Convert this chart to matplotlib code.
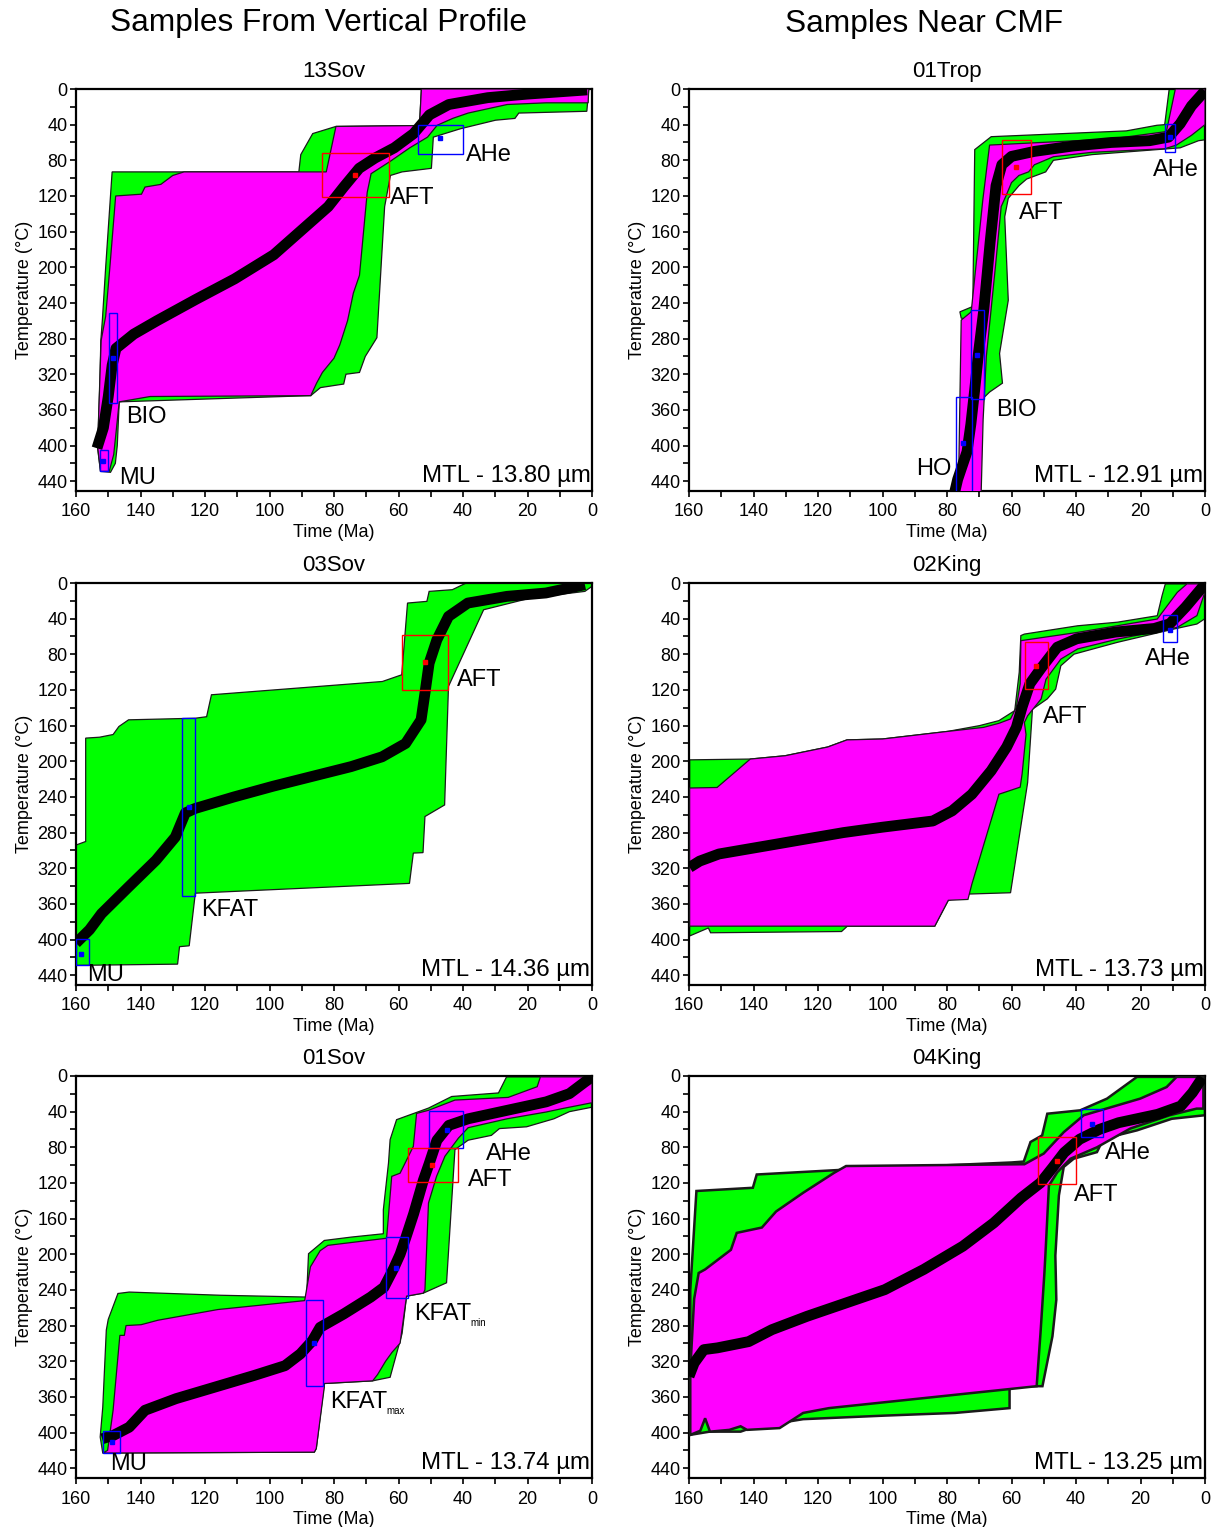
import matplotlib
matplotlib.use("Agg")
import matplotlib.pyplot as plt
from matplotlib.patches import Polygon, Rectangle

plt.rcParams['font.family'] = ['Liberation Sans', 'DejaVu Sans']

# ---------------- DATA (time in Ma, temperature in degC) ----------------
# ---- 13Sov ----
sov13_path = [(153.5,403),(151.5,380),(150,345),(148.8,310),(147.6,291),(142.1,275),(134.9,260),
              (122.8,236),(110.8,213),(98.7,186),(89,155),(81.8,132),(77,110),(72.2,89),(67.3,77.5),
              (61.3,66),(55.3,50),(50.4,29),(44.4,17.4),(32.3,9.7),(20.3,5.8),(1.5,1)]
sov13_green = [(148.8,93),(90.9,93),(90.3,73.6),(86.6,50),(79.4,42),(53.5,41),(52.9,0),(1,0),(1.6,25),
               (22.7,27),(23.9,33),(29.9,35),(40.8,44.6),(49.2,54),(49.8,89),(58.9,93),(62.5,97),
               (64.3,132),(66.7,279),(70.3,300),(72.1,318),(76.3,320),(77,331),(84.2,335),(87.2,344),
               (146.6,351),(147.2,400),(147.8,420),(149.3,430),(152.4,429),(153.3,403),(152.6,330),
               (152.3,282),(151.8,258),(150.8,200)]
sov13_magenta = [(147.7,120),(139.7,118),(138.6,110),(133.7,107),(130,97),(126.5,93),(82.4,93),(79.4,42),
                 (53.5,41),(52.9,0),(1,0),(1.2,15.5),(14.2,15.5),(26.3,17.4),(38.4,27),(43.2,33),(48,40.7),
                 (51,54),(56.5,66),(62.5,81),(68.5,95),(69.7,116),(72.1,209),(74,229),(75.8,260),(78.2,287),
                 (80,302),(83.6,318),(85.4,330),(87.2,344),(137,345),(146.6,351),(148.3,410),(149.7,429),
                 (152.4,429),(153.3,401),(152.2,282),(150.8,255),(149.5,200)]
sov13_boxes = [("AFT", 63, 83.6, 72, 121, 73.4, 96), ("AHe", 40, 53.8, 40, 72.5, 47, 55.4),
               ("BIO", 147.2, 149.7, 251, 352, 148.5, 302), ("MU", 150.2, 152.6, 405, 429, 151.5, 417)]
sov13_labels = [("AHe", 39, 74), ("AFT", 62.5, 122), ("BIO", 144.5, 368), ("MU", 146.6, 436)]
sov13_mtl = "MTL - 13.80 µm"

# ---- 01Trop ----
trop01_path = [(77.6,452),(76.7,438),(73.8,407),(72.6,376),(71.4,337),(70.2,295),(68.6,248),(66.6,171),
               (64.8,108.5),(63,85),(60,75.6),(52.9,70),(41,64),(29.1,60),(17.2,58),(11.3,54),(7.7,39),
               (4.2,19),(0,2)]
trop01_green = [(71.4,68),(66.3,53.5),(24.4,47),(14.9,40.7),(12.5,40),(11.1,0),(0,0),(0,57),(2,58),(7.7,66),
                (35,73.6),(47,80),(49.4,93),(55.3,101),(57.7,108.5),(61,122.6),(62.1,143.3),(61,237),
                (63.7,296.7),(62.8,330),(66.8,340),(68.5,346),(72.6,260),(75.6,257),(76,250),(72,244)]
trop01_magenta = [(66.8,62.9),(29,56),(12.5,48),(11.9,46.5),(9.2,0),(0,0),(0,40),(4.2,52),(8.9,63),
                  (12.5,67),(35,71),(47,76),(52.9,85),(54.7,93),(57.7,97),(60,105),(61.6,119),(63.2,132),
                  (65,200),(67.8,300),(68.8,371),(69.4,452),(77.1,452),(76.4,438),(75.6,259.3),(72.5,250),
                  (68.9,124.6)]
trop01_boxes = [("AFT", 54.1, 62.8, 57.4, 118, 58.5, 87), ("AHe", 9.3, 12.3, 39.5, 70.5, 10.7, 54),
                ("BIO", 68.4, 72.6, 248, 348, 70.8, 298), ("HO", 72.3, 77.1, 345, 452, 75, 397)]
trop01_labels = [("AFT", 57.7, 139.5), ("AHe", 16, 91), ("BIO", 64.8, 360)]
trop01_mtl = "MTL - 12.91 µm"

# ---- 03Sov ----
sov03_path = [(160,404),(155.8,389),(152.1,371),(143.7,341),(135.2,311),(129.2,285),(126.1,258),(123.1,253),
              (111,240),(98.9,228),(86.8,217),(74.7,206),(65.1,195),(57.8,180),(53,153.5),(51.8,123.6),
              (50.5,90),(48.1,63.7),(44.5,37.5),(38.5,22.5),(26.4,15),(14.3,11.2),(2.2,1.9)]
sov03_green = [(39,0),(0,0),(0,3.7),(2.2,9.4),(19.1,16.9),(33.6,30),(44.5,116),(45.7,249),(51.8,262),
               (52.4,302.5),(55.4,303),(56.6,337),(123,348),(124.9,407),(127.9,408),(128.5,427.6),(160,429),
               (160,294),(157,290),(157,174),(152.7,173),(148.5,170),(146.7,161),(143.7,153.5),(123,151.7),
               (119.5,150),(118,125.4),(65,110.5),(59,103),(57.2,22.5),(51.2,20.6),(50.5,9.4),(43.3,7.5)]
sov03_magenta = []
sov03_boxes = [("AFT", 44.5, 59, 58.8, 120, 51.8, 88.7), ("KFAT", 123, 127, 151, 351, 124.9, 251),
               ("MU", 156, 160, 399, 429, 158.5, 416)]
sov03_labels = [("AFT", 41.8, 108.6), ("KFAT", 121.3, 367), ("MU", 156.5, 440)]
sov03_mtl = "MTL - 14.36 µm"

# ---- 02King ----
king02_path = [(159.8,319),(156.7,312),(150.7,304),(136.2,295),(124.2,287.5),(112.1,280),(100.1,274),
               (84.4,267),(78.4,255.6),(72.3,237),(66.3,210.6),(61.5,184),(58.5,162),(56.7,139),(54.3,113),
               (50.6,94.5),(45.8,72),(39.8,62.6),(27.7,55),(15.7,51),(10.9,45.7),(6,27),(1.2,6.4),(0,0.7)]
king02_green = [(159.8,396),(159.8,198.4),(141,197.5),(130.2,193.8),(117,184),(111,176),(100,175),
                (79.6,166.4),(69.9,160),(63.9,154.4),(59,143.2),(57.6,100),(57.1,59),(56,57.3),(39.5,48),
                (27.2,44),(14.8,36.7),(13.3,14),(12.3,1),(0,1),(0,40),(2.5,46),(9.7,51.7),(27.2,66.6),
                (40.6,79.8),(44.7,92.8),(46.3,119),(48.9,130),(53.5,141.6),(55,224),(60.3,347.5),(73.5,349),
                (79.6,356),(83.8,385),(110.9,385),(112.7,391),(153.3,392.4),(154,387)]
king02_magenta = [(159.8,230),(151.3,229.4),(141,197.5),(130.2,193.8),(117,184),(111,176),(100,175),
                  (79.6,166.4),(68.7,162),(63.9,157.4),(60.3,152.5),(58.5,139.4),(57.3,113),(57.1,64.7),
                  (39.5,55.4),(14.8,40.4),(8.6,10.5),(5.6,1),(0,1),(0,10),(2.5,36.6),(8.6,49.8),(27.2,63),
                  (39.5,74),(44.7,85.4),(49.3,108),(50.8,130),(55,149),(56,156.5),(55.5,170),(56.7,214),
                  (57.3,229),(63.9,237),(72.3,338),(73.5,355),(79.6,356),(83.8,385),(159.8,385)]
king02_boxes = [("AFT", 48.8, 55.7, 66, 119, 52.4, 92.6), ("AHe", 8.8, 12.9, 36, 66, 10.9, 52.5)]
king02_labels = [("AFT", 50.4, 150.7), ("AHe", 18.7, 85)]
king02_mtl = "MTL - 13.73 µm"

# ---- 01Sov ----
sov01_path = [(151.9,407),(148.3,403),(143.5,394),(138.6,375),(129,362),(116.9,349),(104.8,336),(95.2,325),
              (90.4,311.7),(86.7,297),(84.3,282),(77,267),(68.6,248),(64.5,237),(61.5,216),(59.5,200),
              (57.7,181),(55.3,154.5),(52.3,117),(50.5,98.4),(48.1,72.2),(44.4,55.4),(38.4,48),(26.3,38.5),
              (14.2,29),(7,19.8),(2.2,6.7),(0,1)]
sov01_green = [(151.7,423),(152.5,405),(151.7,371.5),(150.6,285),(150,273),(147,244),(143.5,242.4),
               (115,246),(88.5,248),(87.9,199.4),(83,184.5),(74.6,180.7),(64.7,177),(64.7,150),(63.1,97.6),
               (62.6,71.4),(60.6,49),(50.7,36),(43.5,23),(29,19),(26.5,1),(0,1),(0,35),(7,40),(11.8,48),
               (20.3,57),(28.7,59),(31.2,66.6),(38.4,72),(42.5,82.6),(45.1,232),(52.3,243.6),(57.5,247),
               (58.9,289),(62.6,338),(68,342),(83,345),(85.5,418),(86.1,422)]
sov01_magenta = [(151.7,423),(150.2,420),(148.5,375),(146.4,291),(145,291),(144.5,280),(139.8,279),
                 (134.6,274),(116,262),(89.1,252),(87.3,214),(84.3,196),(81.9,190),(63.7,182),(62.1,112.6),
                 (59.5,109),(55.4,79),(54.4,42),(50.7,38.5),(42.5,27),(26,24),(17,12),(16,1),(0,1),(0,30),
                 (9.4,36.7),(14.2,40.4),(26.3,48),(38.4,58),(41.4,69.6),(45.6,90),(48.2,112.6),(50.7,142.5),
                 (51.8,240),(52.3,243.6),(57.5,247),(59.5,299.7),(62,310),(64,320),(66.5,335),(68,342),
                 (83,345),(83,349),(85.5,418),(86.1,422)]
sov01_boxes = [("AHe", 39.9, 50.5, 39.3, 80.4, 45, 60.2), ("AFT", 41.4, 57.1, 80.4, 119, 49.5, 100),
               ("KFATmin", 56.9, 64, 180.7, 249, 60.7, 215.5), ("KFATmax", 83.4, 88.8, 251, 348, 86.3, 300),
               ("MU", 146.5, 151.7, 398.5, 423, 148.9, 411)]
sov01_labels = [("AHe", 33, 87), ("AFT", 38.4, 117), ("MU", 149.5, 435)]
sov01_sublabels = [("KFAT", "min", 55.3, 274), ("KFAT", "max", 81.3, 373)]
sov01_mtl = "MTL - 13.74 µm"

# ---- 04King ----
king04_path = [(160,337),(158.4,322),(155.4,307),(151.2,305),(141.5,298),(134.3,284.6),(123.4,269.6),
               (111.3,254.6),(99.3,239.7),(87.2,217),(75.1,191),(65.5,164.8),(57,136.7),(51,119.8),
               (47.3,103),(43.7,86),(38.9,71),(32.8,60),(26.8,52.4),(14.7,43),(7.5,33.7),(3.9,18.7),(0.8,1.9)]
king04_green = [(159.6,402.6),(159.6,240),(157.7,129),(140.2,125.4),(139,110.5),(111.3,105),(60,97),
                (56.2,96),(54.1,74),(50.5,66.6),(48.9,42.3),(38.7,38.5),(30.4,25.4),(21.1,1),(0,1),(0,44),
                (10.3,48),(21.1,61),(31.5,70.4),(33.5,85.4),(40.7,92.8),(43.8,102),(45.3,134),(46.4,201.5),
                (46.1,251),(47.3,292),(50.4,348),(60.6,348),(60.6,372.6),(77.5,378),(99.3,381),(124.6,385),
                (140,394),(144,399),(153.6,399)]
king04_magenta = [(159.6,402.6),(159.6,330),(158.4,250),(157,221),(155,217),(147,195),(145.2,176),
                  (137.4,170),(133,152),(124.6,131),(115,108.6),(111.3,101),(56,99),(50,87),(43.8,63),
                  (37.6,44),(20.1,25.4),(11.9,12.4),(8.8,1),(0.5,1),(0.5,36.6),(2.6,36.6),(10.9,44),
                  (23.2,59),(33.5,80),(41.7,92.8),(45.8,108),(48.4,123),(49.5,201.5),(49.8,221),(51,288),
                  (52.2,348),(116.6,372.6),(124.6,378),(131.9,395),(142,397),(144,393),(147.5,397),
                  (153.5,399),(155,384),(156.5,398)]
king04_boxes = [("AHe", 31.5, 38.6, 36.6, 68.5, 35, 53.5), ("AFT", 40, 51.7, 68.5, 121.7, 45.8, 95.5)]
king04_labels = [("AHe", 31, 86), ("AFT", 40.5, 134)]
king04_mtl = "MTL - 13.25 µm"

x_ticks = [160, 140, 120, 100, 80, 60, 40, 20, 0]
y_ticks = [0, 40, 80, 120, 160, 200, 240, 280, 320, 360, 400, 440]

# ---------------- STYLE / LAYOUT ----------------
GREEN = '#00FF00'
MAGENTA = '#FF00FF'
BOX_COLORS = {"AFT": '#FF0000'}
W, H = 1217, 1527

fig = plt.figure(figsize=(W/100, H/100), dpi=100)

def make_ax(left, top, w=516, h=402):
    return fig.add_axes([left/W, 1-(top+h)/H, w/W, h/H])

panels = [
    ("13Sov", 76, 89, sov13_green, sov13_magenta, sov13_path, sov13_boxes, sov13_labels, [], sov13_mtl, 0.9),
    ("01Trop", 689, 89, trop01_green, trop01_magenta, trop01_path, trop01_boxes, trop01_labels, [], trop01_mtl, 0.9),
    ("03Sov", 76, 583, sov03_green, sov03_magenta, sov03_path, sov03_boxes, sov03_labels, [], sov03_mtl, 0.9),
    ("02King", 689, 583, king02_green, king02_magenta, king02_path, king02_boxes, king02_labels, [], king02_mtl, 0.9),
    ("01Sov", 76, 1076, sov01_green, sov01_magenta, sov01_path, sov01_boxes, sov01_labels, sov01_sublabels, sov01_mtl, 0.9),
    ("04King", 689, 1076, king04_green, king04_magenta, king04_path, king04_boxes, king04_labels, [], king04_mtl, 1.8),
]

for (name, left, top, green, magenta, path, boxes, labels, sublabels, mtl, elw) in panels:
    ax = make_ax(left, top)
    ax.set_xlim(160, 0)
    ax.set_ylim(451, 0)
    if green:
        ax.add_patch(Polygon(green, closed=True, facecolor=GREEN, edgecolor='#1a1a1a', lw=elw, zorder=2))
    if magenta:
        ax.add_patch(Polygon(magenta, closed=True, facecolor=MAGENTA, edgecolor='#1a1a1a', lw=elw, zorder=3))
    pt = [p[0] for p in path]
    pT = [p[1] for p in path]
    ax.plot(pt, pT, color='black', lw=7.8, solid_capstyle='butt', solid_joinstyle='round', zorder=4)
    for (lab, t0, t1, T0, T1, dt, dT) in boxes:
        col = BOX_COLORS.get(lab, '#0000FF')
        ax.add_patch(Rectangle((t0, T0), t1 - t0, T1 - T0, fill=False, edgecolor=col, lw=1.0, zorder=5))
        ax.plot([dt], [dT], marker='s', ms=3, color=col, mec=col, zorder=6)
    for (lab, tx, ty) in labels:
        ax.text(tx, ty, lab, fontsize=17, ha='left', va='center', zorder=7)
    if name == "01Trop":
        ax.text(78.5, 426, "HO", fontsize=17, ha='right', va='center', zorder=7)
    for (lab, sub, tx, ty) in sublabels:
        ax.text(tx, ty, lab, fontsize=17, ha='left', va='baseline', zorder=7)
        ax.annotate(sub, xy=(tx, ty), xytext=(41, -4), textcoords='offset points',
                    fontsize=7, ha='left', va='baseline', zorder=7)
    ax.text(0.5, 434, mtl, fontsize=17.3, ha='right', va='center', zorder=7)

    ax.set_xticks(x_ticks)
    ax.set_xticks([150, 130, 110, 90, 70, 50, 30, 10], minor=True)
    ax.set_yticks(y_ticks)
    ax.set_yticks([20, 60, 100, 140, 180, 220, 260, 300, 340, 380, 420], minor=True)
    ax.tick_params(which='both', direction='out', length=4, width=1.2, labelsize=13)
    ax.tick_params(axis='x', which='both', pad=5)
    ax.tick_params(axis='y', which='both', pad=2)
    for s in ax.spines.values():
        s.set_linewidth(1.6)
    ax.set_xlabel("Time (Ma)", fontsize=13, labelpad=2.5)
    ax.set_ylabel("Temperature (°C)", fontsize=13, labelpad=3)
    ax.set_title(name, fontsize=16, pad=8.5)

fig.text(318/W, 1 - 23/H, "Samples From Vertical Profile", fontsize=22.8, ha='center', va='center')
fig.text(924/W, 1 - 24/H, "Samples Near CMF", fontsize=22.8, ha='center', va='center')

fig.savefig("out.png", dpi=100)
